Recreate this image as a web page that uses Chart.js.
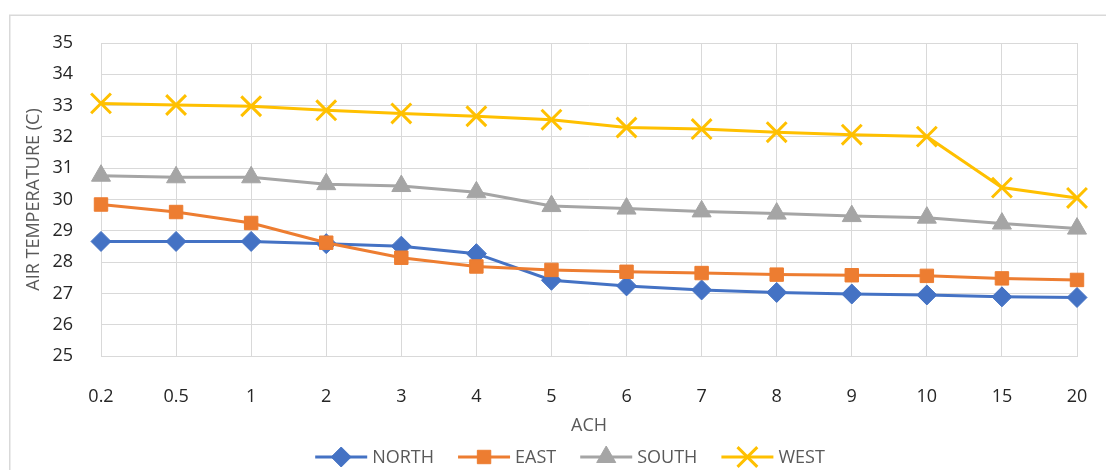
<!DOCTYPE html>
<html>
<head>
<meta charset="utf-8">
<script src="https://cdn.jsdelivr.net/npm/chart.js@4/dist/chart.umd.min.js"></script>
<style>
  html, body { margin: 0; padding: 0; background: #fff; }
  #wrap { position: relative; width: 1106px; height: 470px; }
</style>
</head>
<body>
<div id="wrap"><canvas id="tempChart"></canvas></div>
<script>
// air change rate per hour (category axis)
var achLabels = ['0.2', '0.5', '1', '2', '3', '4', '5', '6', '7', '8', '9', '10', '15', '20'];

// air temperature (C) per facade
var north = [28.66, 28.66, 28.66, 28.59, 28.51, 28.27, 27.42, 27.24, 27.11, 27.03, 26.98, 26.95, 26.89, 26.87];
var east  = [29.84, 29.60, 29.25, 28.62, 28.14, 27.86, 27.75, 27.69, 27.65, 27.60, 27.58, 27.56, 27.48, 27.43];
var south = [30.76, 30.71, 30.71, 30.49, 30.43, 30.23, 29.79, 29.71, 29.62, 29.55, 29.47, 29.42, 29.23, 29.07];
var west  = [33.07, 33.02, 32.98, 32.85, 32.75, 32.66, 32.55, 32.30, 32.25, 32.15, 32.07, 32.01, 30.38, 30.05];

var yTicks = { min: 25, max: 35, step: 1 };

var fontFamily = '"Open Sans", "Noto Sans", sans-serif';
var gridColor = '#D9D9D9';

function lineSeries(label, data, color, style, radius, order) {
    var isCross = style === 'crossRot';
    return {
        label: label,
        data: data,
        borderColor: color,
        backgroundColor: color,
        borderWidth: 3,
        pointStyle: style,
        pointRadius: radius,
        pointHoverRadius: radius,
        pointBackgroundColor: color,
        pointBorderColor: color,
        pointBorderWidth: isCross ? 3 : 1,
        tension: 0,
        order: order
    };
}

// frame around the whole chart
var chartFrame = {
    id: 'chartFrame',
    beforeDraw: function(chart) {
        var ctx = chart.ctx;
        ctx.save();
        ctx.strokeStyle = gridColor;
        ctx.lineWidth = 1.5;
        ctx.beginPath();
        ctx.moveTo(9.75, chart.height + 2);
        ctx.lineTo(9.75, 15.25);
        ctx.lineTo(chart.width + 2, 15.25);
        ctx.stroke();
        ctx.restore();
    }
};

// legend with a short line and the marker in the middle of it
var lineLegend = {
    id: 'lineLegend',
    afterDraw: function(chart) {
        var ctx = chart.ctx;
        var lineLen = 52, gapText = 5, gapItem = 24, y = 457, centerX = 570;
        ctx.save();
        ctx.font = '18px ' + fontFamily;
        var sets = chart.data.datasets;
        var widths = sets.map(function(ds) {
            return lineLen + gapText + ctx.measureText(ds.label).width;
        });
        var total = widths.reduce(function(a, b) { return a + b; }, 0) + gapItem * (widths.length - 1);
        var x = centerX - total / 2;
        sets.forEach(function(ds, i) {
            ctx.strokeStyle = ds.borderColor;
            ctx.lineWidth = 3;
            ctx.beginPath();
            ctx.moveTo(x, y);
            ctx.lineTo(x + lineLen, y);
            ctx.stroke();

            ctx.fillStyle = ds.pointBackgroundColor;
            ctx.strokeStyle = ds.pointBorderColor;
            ctx.lineWidth = ds.pointBorderWidth;
            Chart.helpers.drawPoint(ctx, {
                pointStyle: ds.pointStyle,
                radius: ds.pointRadius,
                borderWidth: ds.pointBorderWidth,
                rotation: 0
            }, x + lineLen / 2, y);

            ctx.fillStyle = '#595959';
            ctx.textAlign = 'left';
            ctx.textBaseline = 'middle';
            ctx.fillText(ds.label, x + lineLen + gapText, y + 1);
            x += widths[i] + gapItem;
        });
        ctx.restore();
    }
};

var ctx = document.getElementById('tempChart').getContext('2d');

var tempChart = new Chart(ctx, {
    type: 'line',
    data: {
        labels: achLabels,
        datasets: [
            lineSeries('NORTH', north, '#4472C4', 'rectRot', 10, 4),
            lineSeries('EAST', east, '#ED7D31', 'rect', 9.5, 3),
            lineSeries('SOUTH', south, '#A5A5A5', 'triangle', 11, 2),
            lineSeries('WEST', west, '#FFC000', 'crossRot', 14, 1)
        ]
    },
    options: {
        responsive: true,
        maintainAspectRatio: false,
        devicePixelRatio: 1,
        animation: false,
        layout: { padding: { left: 20, right: 29, top: 43, bottom: 30 } },
        plugins: {
            legend: { display: false },
            tooltip: { enabled: false }
        },
        scales: {
            x: {
                offset: false,
                grid: { color: gridColor, lineWidth: 1, drawTicks: false },
                border: { color: gridColor },
                ticks: {
                    color: '#262626',
                    font: { family: fontFamily, size: 18 },
                    padding: 30,
                    maxRotation: 0,
                    autoSkip: false
                },
                title: {
                    display: true,
                    text: 'ACH',
                    color: '#595959',
                    font: { family: fontFamily, size: 18 },
                    padding: { top: 0, bottom: 3 }
                },
                afterFit: function(scale) {
                    scale.height = 84;
                    // edge labels fit inside the layout padding already
                    scale.paddingLeft = 0;
                    scale.paddingRight = 0;
                }
            },
            y: {
                min: yTicks.min,
                max: yTicks.max,
                grid: { color: gridColor, lineWidth: 1, drawTicks: false },
                border: { color: gridColor },
                ticks: {
                    stepSize: yTicks.step,
                    color: '#262626',
                    font: { family: fontFamily, size: 18 },
                    padding: 28
                },
                title: {
                    display: true,
                    text: 'AIR TEMPERATURE (C)',
                    color: '#595959',
                    font: { family: fontFamily, size: 18 },
                    padding: { top: 3, bottom: 0 }
                },
                afterFit: function(scale) { scale.width = 81; }
            }
        }
    },
    plugins: [chartFrame, lineLegend]
});
</script>
</body>
</html>
